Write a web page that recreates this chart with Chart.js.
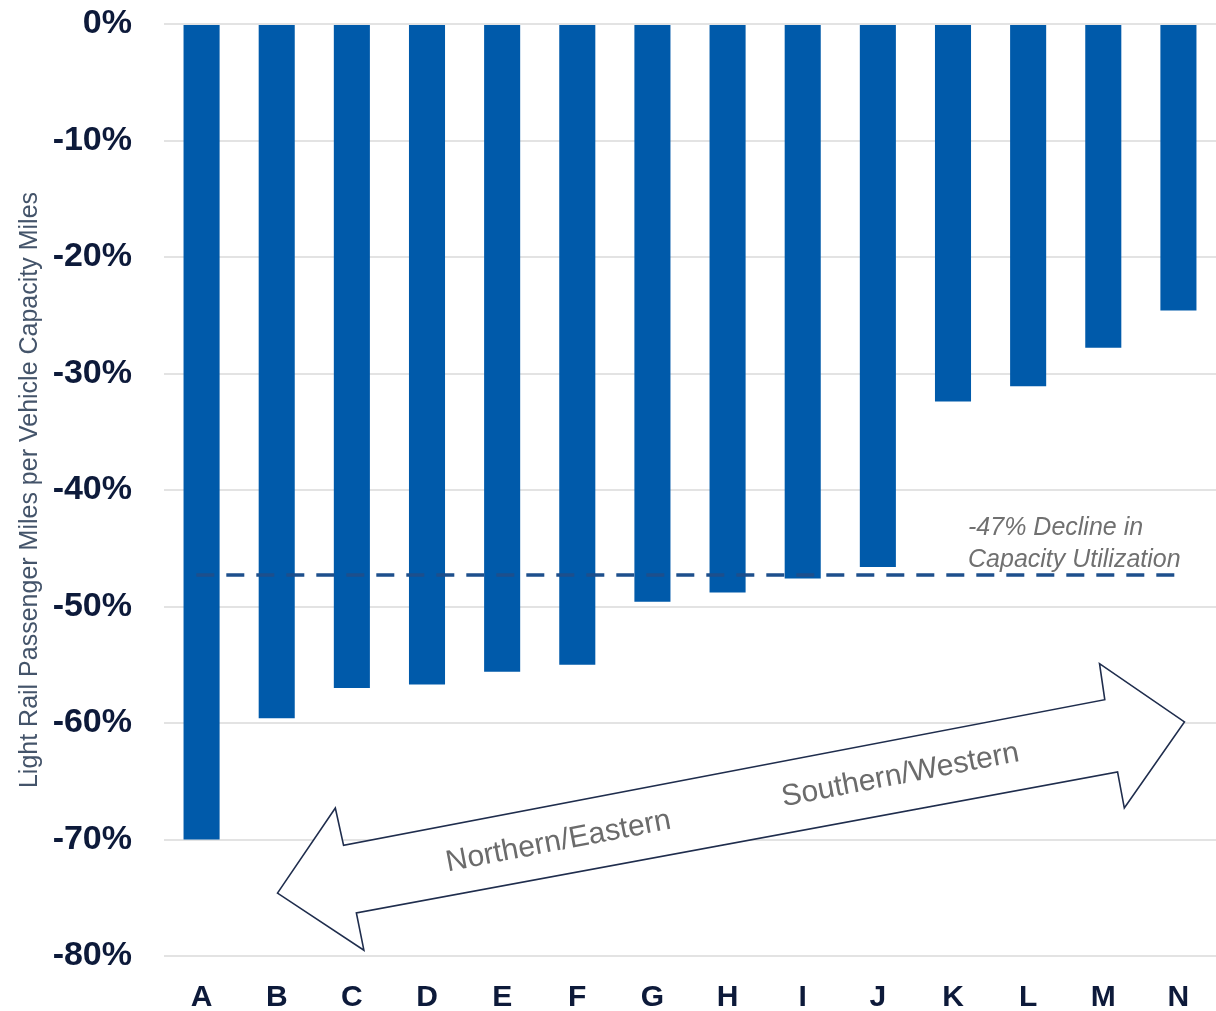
<!DOCTYPE html>
<html>
<head>
<meta charset="utf-8">
<script src="https://cdn.jsdelivr.net/npm/chart.js@4/dist/chart.umd.min.js"></script>
<style>
html,body{margin:0;padding:0;background:#fff;}
canvas{display:block;}
</style>
</head>
<body>
<canvas id="c" width="1216" height="1011"></canvas>
<script>
const categories = ["A","B","C","D","E","F","G","H","I","J","K","L","M","N"];
const values = [-70.0,-59.6,-57.0,-56.7,-55.6,-55.0,-49.6,-48.8,-47.6,-46.6,-32.4,-31.1,-27.8,-24.6];
const yTickStep = 10;
const averageValue = -47.3;
const averageLabel = ["-47% Decline in", "Capacity Utilization"];
const yTitle = "Light Rail Passenger Miles per Vehicle Capacity Miles";
const arrowLabels = ["Northern/Eastern", "Southern/Western"];
// arrow outline in data space: [category index, percent]
const arrowOutline = [
  [1.01,-74.6],[1.78,-67.3],[1.89,-70.5],[12.02,-58.0],[11.95,-54.9],
  [13.08,-59.9],[12.28,-67.3],[12.19,-64.2],[2.06,-76.3],[2.16,-79.5]
];
const arrowLabelPos = [[4.75,-70.2],[9.3,-64.5]];

const FONT = '"Liberation Sans", Arial, sans-serif';

const overlay = {
  id:'overlay',
  afterDatasetsDraw(chart){
    const {ctx, scales:{x,y}} = chart;
    const px = i => x.getPixelForValue(0) + i*(x.getPixelForValue(1)-x.getPixelForValue(0));
    ctx.save();
    ctx.strokeStyle = '#1d4f8c';
    ctx.lineWidth = 3.5;
    ctx.setLineDash([18,12]);
    ctx.beginPath();
    const ya = y.getPixelForValue(averageValue);
    ctx.moveTo(px(-0.07), ya);
    ctx.lineTo(px(13.08), ya);
    ctx.stroke();
    ctx.restore();
    ctx.save();
    ctx.fillStyle = '#707070';
    ctx.font = 'italic 25px ' + FONT;
    ctx.textAlign = 'left';
    ctx.textBaseline = 'middle';
    ctx.fillText(averageLabel[0], px(10.2), y.getPixelForValue(-43.3));
    ctx.fillText(averageLabel[1], px(10.2), y.getPixelForValue(-46.0));
    ctx.restore();
    ctx.save();
    ctx.beginPath();
    arrowOutline.forEach((p,i)=>{
      const X = px(p[0]), Y = y.getPixelForValue(p[1]);
      if(i===0) ctx.moveTo(X,Y); else ctx.lineTo(X,Y);
    });
    ctx.closePath();
    ctx.fillStyle = '#ffffff';
    ctx.fill();
    ctx.strokeStyle = '#1f2d4d';
    ctx.lineWidth = 1.6;
    ctx.stroke();
    const a0 = arrowOutline[2], a1 = arrowOutline[3];
    const ang = Math.atan2(y.getPixelForValue(a1[1])-y.getPixelForValue(a0[1]), px(a1[0])-px(a0[0]));
    ctx.fillStyle = '#6b6b6b';
    ctx.font = '30px ' + FONT;
    ctx.textAlign = 'center';
    ctx.textBaseline = 'middle';
    arrowLabels.forEach((t,i)=>{
      ctx.save();
      ctx.translate(px(arrowLabelPos[i][0]), y.getPixelForValue(arrowLabelPos[i][1]));
      ctx.rotate(ang);
      ctx.fillText(t,0,0);
      ctx.restore();
    });
    ctx.restore();
  }
};

new Chart(document.getElementById('c'), {
  type:'bar',
  data:{
    labels:categories,
    datasets:[{data:values, backgroundColor:'#005aaa', barPercentage:0.48, categoryPercentage:1.0}]
  },
  options:{
    responsive:false,
    animation:false,
    layout:{padding:{top:0,right:0,left:0,bottom:0}},
    plugins:{legend:{display:false}, tooltip:{enabled:false}},
    scales:{
      x:{
        grid:{display:false, drawTicks:false},
        border:{display:false},
        ticks:{color:'#0d1a3a', font:{family:FONT, size:30, weight:'bold'}, padding:24},
        afterFit(s){ s.height = 55; }
      },
      y:{
        min:-80, max:0,
        grid:{color:'#e3e3e3', lineWidth:2, drawTicks:false},
        border:{display:false},
        ticks:{stepSize:yTickStep, color:'#0d1a3a', font:{family:FONT, size:34, weight:'bold'}, padding:32, callback:v=>v+'%'},
        title:{display:true, text:yTitle, color:'#44546a', font:{family:FONT, size:25}, padding:{top:15,bottom:0}},
        afterFit(s){ s.width = 164; s.paddingTop = 24; s.paddingBottom = 0; }
      }
    }
  },
  plugins:[overlay]
});
</script>
</body>
</html>
